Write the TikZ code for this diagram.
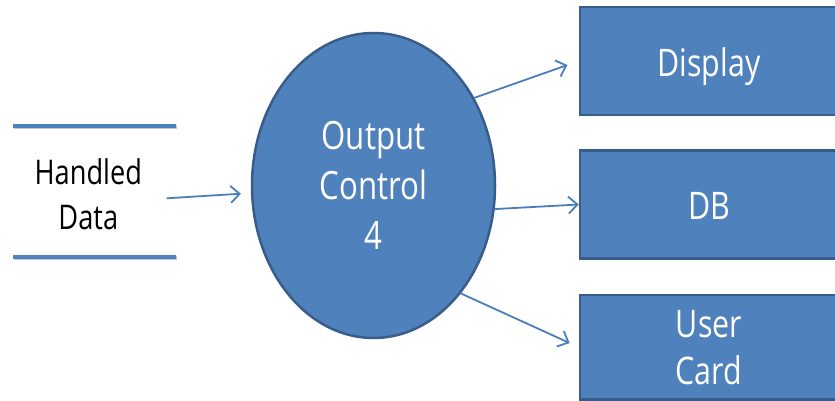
\documentclass[tikz,border=0pt]{standalone}
\usepackage{fontspec}
\setmainfont{Open Sans}[FakeStretch=0.8]
\usetikzlibrary{arrows.meta,shapes.geometric}
\definecolor{fillblue}{HTML}{4F81BD}
\definecolor{edgeblue}{HTML}{385D8A}
\definecolor{arrowblue}{HTML}{4A7EBB}
\definecolor{shadowgray}{HTML}{C8C8C8}
\begin{document}
\begin{tikzpicture}[x=1pt,y=-1pt,
  proc/.style={ellipse, draw=edgeblue, fill=fillblue, line width=2.5pt,
    minimum width=243pt, minimum height=305pt, inner sep=0pt, text=white,
    align=center, font=\fontsize{39}{50}\selectfont},
  ext/.style={rectangle, draw=edgeblue, fill=fillblue, line width=2.5pt,
    minimum width=258pt, minimum height=108pt, inner sep=0pt, text=white,
    align=center, font=\fontsize{38}{47}\selectfont},
  oneline/.style={text height=38pt, text depth=7.1pt},
  storeline/.style={draw=fillblue, line width=4pt},
  storeshadow/.style={draw=shadowgray, line width=4pt},
  storetext/.style={align=center, text=black, inner sep=0pt,
    font=\fontsize{34}{45}\selectfont},
  flow/.style={draw=arrowblue, line width=1.8pt,
    -{Straight Barb[length=9pt,width=17pt,line width=1.8pt]}}]
\useasboundingbox (0,0) rectangle (835,401);
\clip (0,0) rectangle (835,401);
\fill[white] (0,0) rectangle (835,401);
% data store
\coordinate (s1a) at (13,125.7);
\coordinate (s1b) at (176,125.7);
\coordinate (s2a) at (13,256.7);
\coordinate (s2b) at (176,256.7);
\draw[storeshadow] ([shift={(1,1.5)}]s1a) -- ([shift={(1,1.5)}]s1b);
\draw[storeshadow] ([shift={(1,1.5)}]s2a) -- ([shift={(1,1.5)}]s2b);
\draw[storeline] (s1a) -- (s1b);
\draw[storeline] (s2a) -- (s2b);
\node[storetext] (hd) at (88.3,194) {Handled\\Data};
% process
\node[proc] (ell) at (373.5,185.5) {Output\\Control\\4};
% externals
\node[ext, oneline] (disp) at (709,61) {Display};
\node[ext, oneline] (db) at (709,204.5) {DB};
\node[ext, minimum height=104.5pt] (uc) at (709,347.2) {User\\Card};
% flows
\coordinate (in) at (166.7,198.3);
\draw[flow, shorten >=10pt] (in) -- (ell);
\draw[flow, shorten >=12pt] (ell.41) -- (disp.west);
\draw[flow] (ell.-11.6) -- (db.west);
\draw[flow, shorten >=10pt] (ell.-51.3) -- (uc.west);
\end{tikzpicture}
\end{document}
